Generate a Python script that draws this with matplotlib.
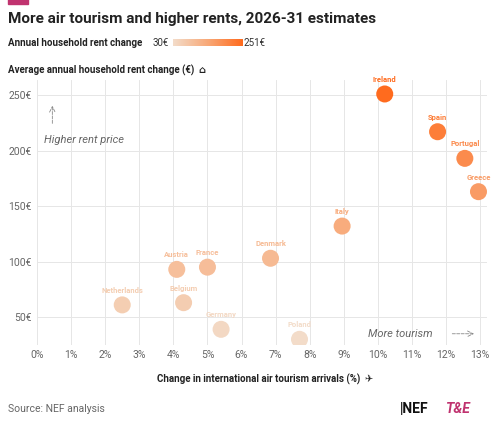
import matplotlib.pyplot as plt
import numpy as np
from matplotlib.colors import LinearSegmentedColormap

plt.rcParams['font.family'] = ['Roboto', 'DejaVu Sans']

countries = ['Ireland', 'Spain', 'Portugal', 'Greece', 'Italy', 'Denmark', 'France',
             'Austria', 'Belgium', 'Netherlands', 'Germany', 'Poland']
tourism = [10.2, 11.75, 12.55, 12.95, 8.95, 6.85, 5.0, 4.1, 4.3, 2.5, 5.4, 7.7]
rent = [251, 217, 193, 163, 132, 103, 95, 93, 63, 61, 39, 30]

cmap = LinearSegmentedColormap.from_list('r', ['#f3dcc9', '#f8a877', '#ff6b1e'])
norm = plt.Normalize(30, 251)

fig = plt.figure(figsize=(5, 4.3), dpi=100)
ax = fig.add_axes([0.074, 0.198, 0.9, 0.617])
cols = [cmap(norm(r)) for r in rent]
ax.scatter(tourism, rent, s=150, c=cols, zorder=3, edgecolors='none')
for x, y, c, col in zip(tourism, rent, countries, cols):
    ax.text(x, y + 10, c, color=col, fontsize=5.5, fontweight='bold', ha='center', va='bottom', zorder=4)

ax.set_xlim(0, 13.2)
ax.set_ylim(25, 264)
ax.set_xticks(range(14))
ax.set_xticklabels([f'{i}%' for i in range(14)])
ax.set_yticks([50, 100, 150, 200, 250])
ax.set_yticklabels([f'{v}€' for v in [50, 100, 150, 200, 250]])
ax.tick_params(length=0, labelsize=7.5, colors='#666666', pad=4)
ax.grid(True, color='#e6e6e6', lw=0.7)
for s in ax.spines.values():
    s.set_visible(False)

ax.annotate('', xy=(0.45, 243), xytext=(0.45, 222),
            arrowprops=dict(arrowstyle='->', color='#888888', ls='--', lw=0.6))
ax.text(0.2, 207, 'Higher rent price', fontsize=8, style='italic', color='#666666')
ax.text(9.7, 35, 'More tourism', fontsize=8, style='italic', color='#666666', va='center')
ax.annotate('', xy=(12.9, 35), xytext=(12.1, 35),
            arrowprops=dict(arrowstyle='->', color='#888888', ls='--', lw=0.6))

fig.text(0.016, 0.955, 'More air tourism and higher rents, 2026-31 estimates',
         fontsize=11, fontweight='bold', color='#222222', va='center')
fig.text(0.016, 0.9, 'Annual household rent change', fontsize=7, fontweight='bold', color='#222222', va='center')
fig.text(0.305, 0.9, '30€', fontsize=7, color='#333333', va='center')
cax = fig.add_axes([0.345, 0.892, 0.14, 0.018])
cax.imshow(np.linspace(0, 1, 100)[None, :], aspect='auto', cmap=cmap)
cax.axis('off')
fig.text(0.488, 0.9, '251€', fontsize=7, color='#333333', va='center')
fig.text(0.016, 0.836, 'Average annual household rent change (€)  \u2302', fontsize=7,
         fontweight='bold', color='#222222', va='center')
fig.text(0.53, 0.117, 'Change in international air tourism arrivals (%)  \u2708', fontsize=7,
         fontweight='bold', color='#222222', ha='center', va='center')
fig.text(0.016, 0.048, 'Source: NEF analysis', fontsize=7.5, color='#666666', va='center')
fig.text(0.8, 0.048, '|NEF', fontsize=10, fontweight='bold', color='#111111', va='center')
fig.text(0.89, 0.048, 'T&E', fontsize=10, fontweight='bold', style='italic', color='#c0336f', va='center')
fig.add_artist(plt.Rectangle((0.016, 0.99), 0.04, 0.012, color='#c0336f', transform=fig.transFigure))

fig.savefig('out.png', dpi=100)
